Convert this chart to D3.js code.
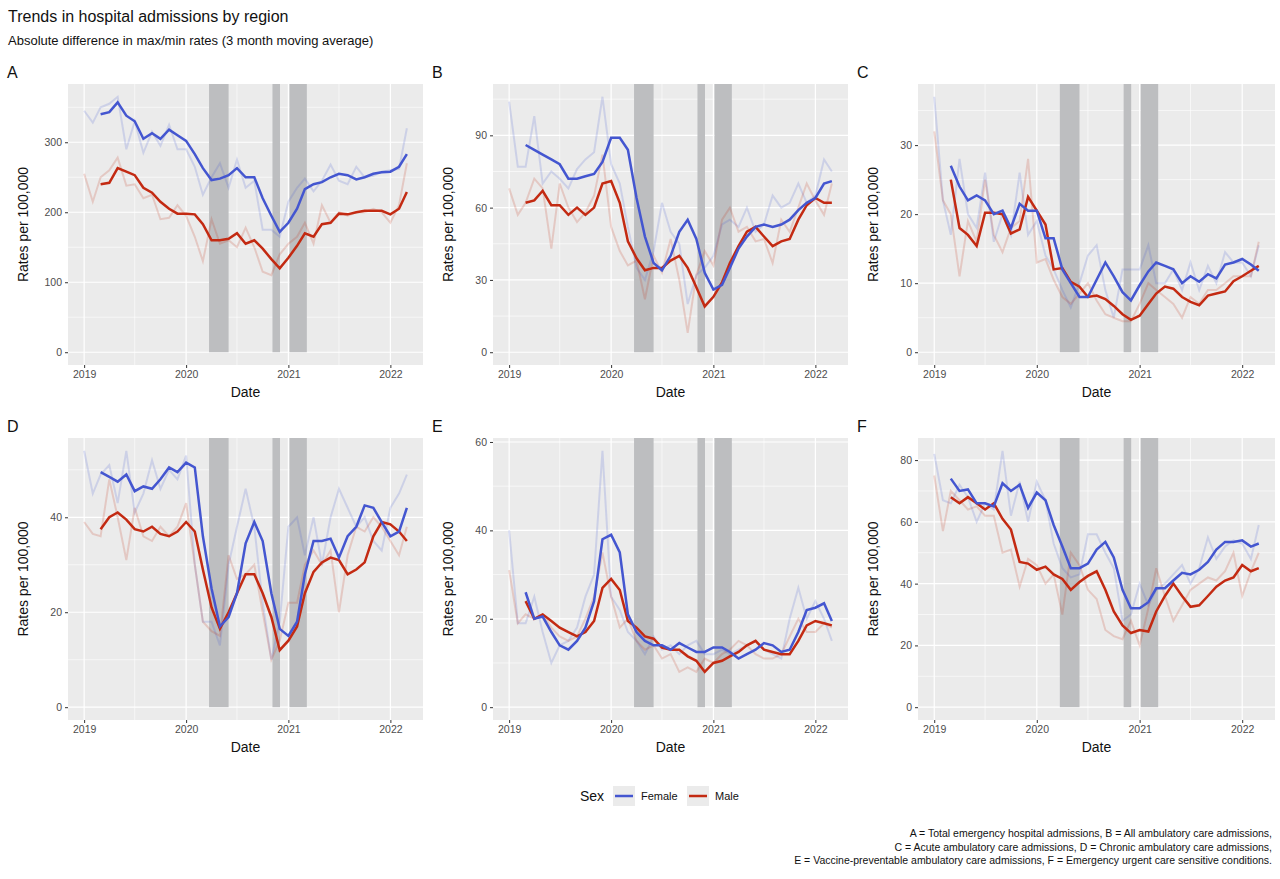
<!DOCTYPE html>
<html><head><meta charset="utf-8">
<script src="https://cdn.jsdelivr.net/npm/d3@7"></script>
<style>body{margin:0;background:#fff;font-family:"Liberation Sans",Arial,sans-serif}</style>
</head><body><svg id="c" width="1280" height="879"></svg>
<script>
const panelLabels = ["A","B","C","D","E","F"];
const yTicks = [[0,100,200,300],[0,30,60,90],[0,10,20,30],[0,20,40],[0,20,40,60],[0,20,40,60,80]];
const xTickLabels = ["2019","2020","2021","2022"];
const femaleMA = [
[340,343,357,338,330,305,313,305,318,310,302,283,263,246,248,253,263,250,250,220,195,172,185,205,233,240,243,250,255,253,247,250,255,257,258,265,283],
[86,84,82,80,78,72,72,73,74,79,89,89,84,64,48,37,34,40,50,55,47,33,26,28,35,43,48,52,53,52,53,55,59,62,64,70,71],
[27,24,22,22.7,22,20,20.5,18,21.5,20.5,20.5,16.5,16.5,12,10,8,8,10.5,13,11,8.7,7.5,9.7,11.7,13,12.5,12,10,11,10.2,11.3,10.7,12.7,13,13.5,12.7,11.8],
[49.5,48.5,47.5,49,45.5,46.5,46,48,50.5,49.5,51.5,50.5,36,25,17,19,24,34.5,39,35,24,16.5,15,18,28,35,35,35.5,31.5,36,38,42.5,42,39,36,37,42],
[26,20,20.5,17,14,13,15,18,24,38,39,35,21,17,15,14,14,13,14.5,13.5,12.5,12.5,13.5,13.5,12.5,11,12,13,14.5,14,12.5,13,17,22,22.5,23.5,19.5],
[74,70,70.5,66,66,65,72.5,70,72,64.5,69.5,67,59,52,45,45,46.5,51,53.5,48.5,38,32,32,34,38.5,38.5,41,43.5,43,44.5,47,51,53.5,53.5,54,52,53]];
const maleMA = [
[240,242,263,258,253,235,228,215,205,198,198,197,183,160,160,162,170,155,160,148,133,120,135,152,170,165,183,185,198,197,200,202,202,202,197,205,229],
[62,63,67,61,61,57,60,57,60,70,71,62,46,39,34,35,35,38,40,35,27,19,23,29,37,44,50,52,48,44,46,47,55,61,64,62,62],
[25,18,17,15.4,20.2,20.2,20,17.2,17.8,22.5,20.5,18.5,12,12.2,10.2,9.5,8,8.2,7.7,6.7,5.5,4.7,5.3,7,8.5,9.5,9.2,8,7.3,6.8,8.2,8.5,8.8,10.3,11,11.8,12.5],
[37.5,40,41,39.5,37.5,37,38,36.5,36,37,39,37,29,21,16.5,20,24,28,28,24,19,12,14,17,24,28.5,30.5,31.5,31,28,29,30.5,36,39,38.5,37,35],
[24,20,21,19.5,18,17,16,17,19.5,27,29,26.5,19.5,18,16,15.5,13.5,13,13,11.5,10.5,8,10,10.5,11.5,12.5,14,15,13,12.5,12,12,15,18.5,19.5,19,18.5],
[68,66,68,66,64,66,61,57.5,47,46.5,44.5,45.5,43,41.5,38,40.5,42.5,44,38,31,26.5,24,25,24.5,31,36,40,36,32.5,33,36,39,41,42,46,44,45]];
const femaleRaw = [
[345,328,350,355,365,290,330,285,315,295,325,290,290,265,225,250,270,235,275,235,245,175,175,165,215,235,248,230,245,268,245,240,265,250,252,258,260,262,320],
[104,77,77,98,70,75,72,68,76,80,83,106,78,70,52,35,30,42,62,50,45,20,32,35,40,53,55,52,60,50,53,65,60,62,70,62,65,80,75],
[37,22,17,28,20,18,26,16,20,17,26,17,19,14,12,9,6.5,10,14,15.5,9,5,12,12,12,15.5,10,10,12,9,13,9,12.5,10,14.5,13,13,11,15.5],
[54,45,49,51,43,54,41,45,52,46,50,48,53,30,18,18,13,30,38,46,38,22,10,18,38,40,32,40,30,40,46,42,38,40,35,33,42,45,49],
[40,19,19,25,17,10,14,15,18,25,30,58,25,22,17,15,12,16,13,14,12,14,15,12,12,13,12,13,14,15,13,12,11,20,27,20,24,20,15],
[82,67,66,72,68,60,66,64,83,62,73,60,73,67,53,45,42,43,56,56,50,45,28,30,40,33,38,40,43,46,40,45,55,48,52,54,53,48,59]];
const maleRaw = [
[255,215,250,260,278,238,240,220,225,190,192,210,195,165,130,190,155,160,150,178,150,115,110,140,155,165,185,155,210,185,200,195,200,200,205,200,185,210,270],
[68,57,62,72,68,43,70,60,54,58,65,82,52,42,36,38,22,40,33,47,30,8,32,42,36,55,60,50,52,46,47,37,55,50,60,70,63,57,70],
[32,22,20,11,19,16,25,17,14.5,18,19,28,13,13.5,10.5,8,7,8.5,10,7.5,5.5,5,4.5,4.5,7,10,9,8,7,5,8,7,9,9,10,11,11,11,16],
[39,36.5,36,48,40,31,42,36,35,38,36,38,43,30,18,16,15,32,27,28,30,20,10,14,22,22,30,33,30,33,20,32,38,37,40,38,35,32,38],
[31,19,21,20,21,18,16,15,16,20,25,35,25,18,20,15,13,14,11,12,8,9,8,11,10,12,13,15,14,12,11,11,12,16,20,17,17,19,18],
[75,57,70,67,64,65,62,62,50,51,39,48,46,40,43,30,50,46,38,35,25,23,22,28,20,32,45,36,28,33,38,40,42,41,44,50,36,44,50]];
const lockdowns = [["2020-03-23","2020-06-01"],["2020-11-05","2020-12-02"],["2021-01-05","2021-03-08"]];
const captionLines = ["A = Total emergency hospital admissions, B = All ambulatory care admissions,",
 "C = Acute ambulatory care admissions, D = Chronic ambulatory care admissions,",
 "E = Vaccine-preventable ambulatory care admissions, F = Emergency urgent care sensitive conditions."];

const BLUE="#4456D0", RED="#C32A12";
const svg=d3.select("#c");
const months=d3.range(39).map(i=>new Date(2019,i,1));
const maMonths=months.slice(2);
const parse=d3.timeParse("%Y-%m-%d");
svg.append("text").attr("x",8).attr("y",22).attr("font-size",16).attr("fill","#111").text("Trends in hospital admissions by region");
svg.append("text").attr("x",8).attr("y",45).attr("font-size",13).attr("fill","#111").text("Absolute difference in max/min rates (3 month moving average)");

const cols=[[68,423],[493,848],[918,1275]], rows=[[84,365],[438,720]];
const t0=months[0], t1=months[38], span=t1-t0;
panelLabels.forEach((lab,p)=>{
  const [x0,x1]=cols[p%3],[y0,y1]=rows[Math.floor(p/3)];
  const g=svg.append("g");
  const x=d3.scaleTime().domain([new Date(+t0-span*0.05),new Date(+t1+span*0.05)]).range([x0,x1]);
  const ymax=d3.max([...femaleRaw[p],...maleRaw[p]]);
  const y=d3.scaleLinear().domain([-ymax*0.05,ymax*1.05]).range([y1,y0]);
  g.append("rect").attr("x",x0).attr("y",y0).attr("width",x1-x0).attr("height",y1-y0).attr("fill","#EBEBEB");
  const yt=yTicks[p], step=yt[1]-yt[0];
  const ym=d3.range(yt[0]+step/2,ymax*1.05,step);
  ym.forEach(v=>g.append("line").attr("x1",x0).attr("x2",x1).attr("y1",y(v)).attr("y2",y(v)).attr("stroke","#fff").attr("stroke-width",0.6));
  const xt=xTickLabels.map(s=>new Date(+s,0,1));
  const xm=[new Date(2019,6,1),new Date(2020,6,1),new Date(2021,6,1)];
  xm.forEach(d=>g.append("line").attr("x1",x(d)).attr("x2",x(d)).attr("y1",y0).attr("y2",y1).attr("stroke","#fff").attr("stroke-width",0.6));
  yt.forEach(v=>g.append("line").attr("x1",x0).attr("x2",x1).attr("y1",y(v)).attr("y2",y(v)).attr("stroke","#fff").attr("stroke-width",1.2));
  xt.forEach(d=>g.append("line").attr("x1",x(d)).attr("x2",x(d)).attr("y1",y0).attr("y2",y1).attr("stroke","#fff").attr("stroke-width",1.2));
  lockdowns.forEach(([a,b])=>g.append("rect").attr("x",x(parse(a))).attr("width",x(parse(b))-x(parse(a))).attr("y",y0).attr("height",y(0)-y0).attr("fill","#BDBEC0"));
  const line=d3.line().x(d=>x(d[0])).y(d=>y(d[1]));
  [[femaleRaw[p],BLUE],[maleRaw[p],RED]].forEach(([v,c])=>g.append("path").attr("d",line(v.map((d,i)=>[months[i],d]))).attr("fill","none").attr("stroke",c).attr("stroke-opacity",0.18).attr("stroke-width",2));
  [[maleMA[p],RED],[femaleMA[p],BLUE]].forEach(([v,c])=>g.append("path").attr("d",line(v.map((d,i)=>[maMonths[i],d]))).attr("fill","none").attr("stroke",c).attr("stroke-width",2.5));
  const ax=g.append("g").attr("transform",`translate(0,${y1})`).call(d3.axisBottom(x).tickValues(xt).tickFormat(d3.timeFormat("%Y")).tickSize(3).tickPadding(3));
  const ay=g.append("g").attr("transform",`translate(${x0},0)`).call(d3.axisLeft(y).tickValues(yt).tickSize(3).tickPadding(3));
  [ax,ay].forEach(a=>{a.select(".domain").remove();a.selectAll("line").attr("stroke","#333");a.selectAll("text").attr("fill","#4D4D4D").attr("font-size",10.5).attr("font-family","Liberation Sans, Arial");});
  g.append("text").attr("x",(x0+x1)/2).attr("y",y1+32).attr("text-anchor","middle").attr("font-size",14).attr("fill","#111").text("Date");
  g.append("text").attr("transform",`translate(${x0-40},${(y0+y1)/2}) rotate(-90)`).attr("text-anchor","middle").attr("font-size",14).attr("fill","#111").text("Rates per 100,000");
  g.append("text").attr("x",x0-61).attr("y",y0-6).attr("font-size",16).attr("fill","#111").text(lab);
});
// legend
const lg=svg.append("g");
lg.append("text").attr("x",580).attr("y",801).attr("font-size",14).attr("fill","#111").text("Sex");
[["Female",BLUE,613],["Male",RED,687]].forEach(([n,c,xx])=>{
  lg.append("rect").attr("x",xx).attr("y",786).attr("width",22).attr("height",20).attr("fill","#EBEBEB");
  lg.append("line").attr("x1",xx+2).attr("x2",xx+20).attr("y1",796).attr("y2",796).attr("stroke",c).attr("stroke-opacity",0.18).attr("stroke-width",2);
  lg.append("line").attr("x1",xx+2).attr("x2",xx+20).attr("y1",796).attr("y2",796).attr("stroke",c).attr("stroke-width",2.5);
  lg.append("text").attr("x",xx+28).attr("y",800).attr("font-size",11).attr("fill","#111").text(n);
});
captionLines.forEach((t,i)=>svg.append("text").attr("x",1272).attr("y",837+i*13.5).attr("text-anchor","end").attr("font-size",10.5).attr("fill","#111").text(t));
</script></body></html>
